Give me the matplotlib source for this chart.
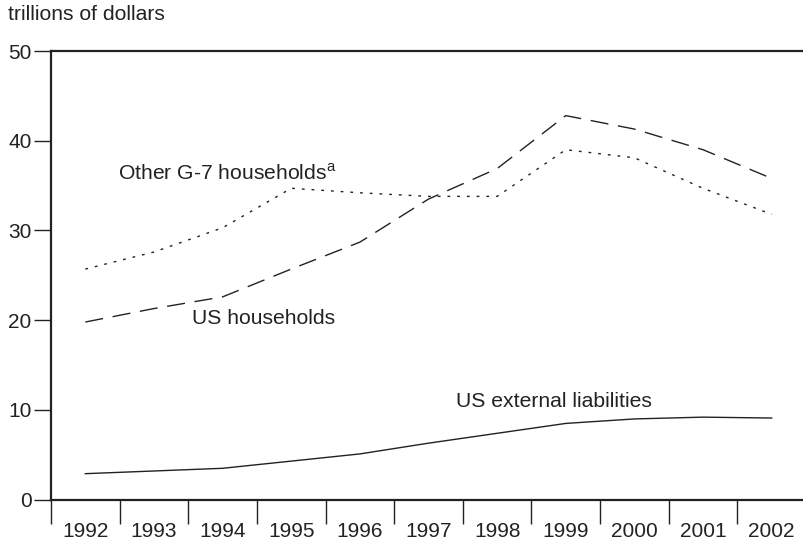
import numpy as np
import matplotlib.pyplot as plt
from matplotlib.ticker import FixedLocator, NullFormatter

plt.rcParams['font.family'] = ['Liberation Sans', 'DejaVu Sans']

years = [1992, 1993, 1994, 1995, 1996, 1997, 1998, 1999, 2000, 2001, 2002]
us_external = [2.9, 3.2, 3.5, 4.3, 5.1, 6.3, 7.4, 8.5, 9.0, 9.2, 9.1]
us_households = [19.8, 21.3, 22.6, 25.7, 28.7, 33.5, 36.9, 42.8, 41.3, 39.0, 35.8]
other_g7 = [25.7, 27.6, 30.3, 34.7, 34.2, 33.8, 33.8, 39.0, 38.1, 34.7, 31.8]

ink = '#222222'
txt = 15.2

fig = plt.figure(figsize=(8.04, 5.41), dpi=100)
ax = fig.add_axes([51 / 804, 1 - 499.7 / 541, 755 / 804, 448.7 / 541])

ax.plot(years, us_external, color=ink, lw=1.0)
ax.plot(years, us_households, color=ink, lw=1.0, dashes=(13, 7))
ax.plot(years, other_g7, color=ink, lw=1.0, dashes=(2, 5))

ax.set_xlim(1991.5, 2002.5)
ax.set_ylim(0, 50)

# category boundaries get tick marks, year labels sit in between
ax.xaxis.set_major_locator(FixedLocator(np.arange(1991.5, 2002.6, 1.0)))
ax.xaxis.set_major_formatter(NullFormatter())
ax.xaxis.set_minor_locator(FixedLocator(years))
ax.set_xticklabels([str(y) for y in years], minor=True)
ax.tick_params(axis='x', which='major', direction='out', length=17, width=1.0, color=ink)
ax.tick_params(axis='x', which='minor', length=0, pad=16, labelsize=15, labelcolor=ink)

ax.set_yticks([0, 10, 20, 30, 40, 50])
ax.tick_params(axis='y', direction='out', length=12, width=1.0, color=ink,
               pad=2, labelsize=15, labelcolor=ink)

for side in ['left', 'bottom', 'top']:
    ax.spines[side].set_linewidth(1.6)
    ax.spines[side].set_color(ink)
ax.spines['right'].set_visible(False)

ax.text(1992.48, 36.4, 'Other G-7 households$^{\\mathregular{a}}$', fontsize=txt, color=ink,
        ha='left', va='center')
ax.text(1993.55, 20.2, 'US households', fontsize=txt, color=ink, ha='left', va='center')
ax.text(1997.4, 10.9, 'US external liabilities', fontsize=txt, color=ink,
        ha='left', va='center')

fig.text(8 / 804, 1 - 15 / 541, 'trillions of dollars', fontsize=txt, color=ink,
         ha='left', va='center')

fig.savefig('out.png', dpi=100)
